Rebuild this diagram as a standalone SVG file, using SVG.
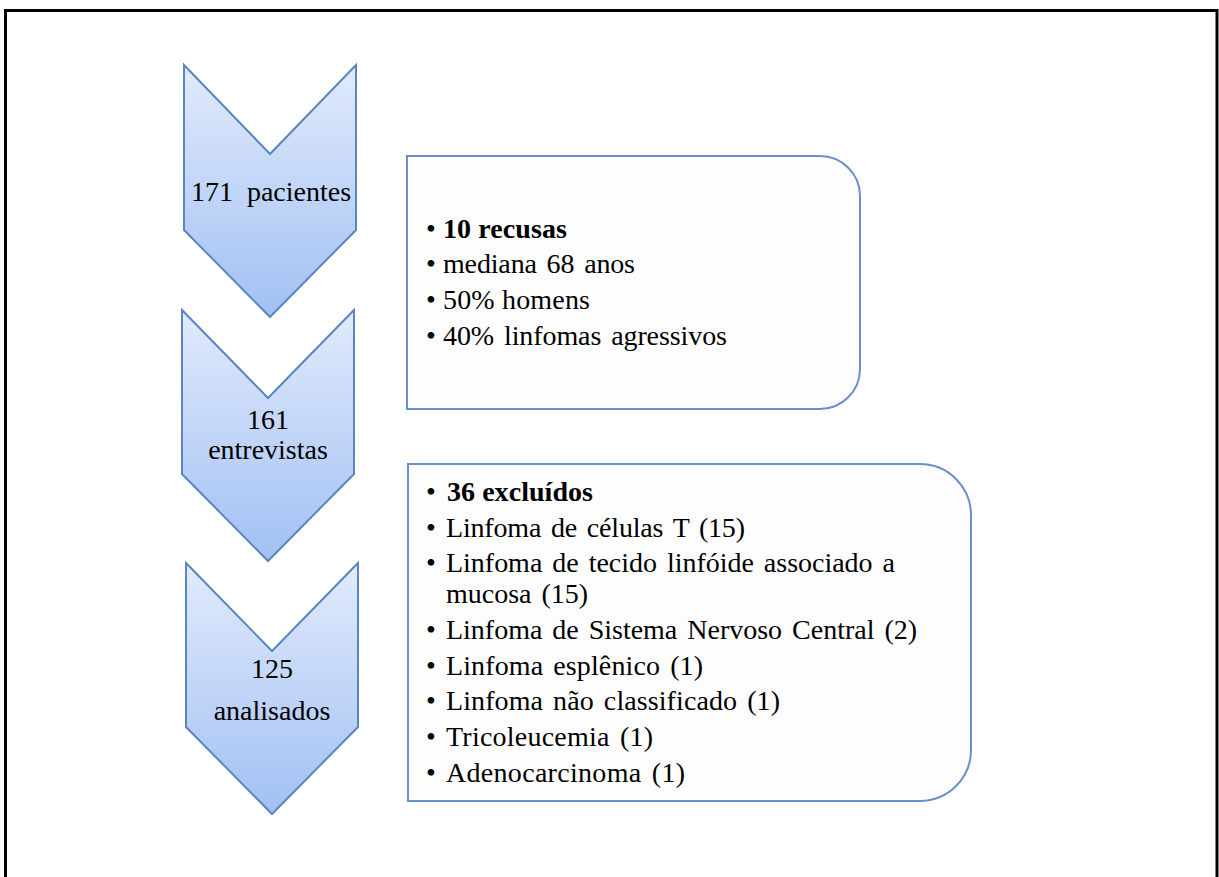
<svg xmlns="http://www.w3.org/2000/svg" width="1219" height="877" viewBox="0 0 1219 877">
<style>
.chev{fill:url(#g);stroke:#5a86c0;stroke-width:2;stroke-linejoin:miter}
.box{fill:#fdfdfd;stroke:#6890c9;stroke-width:2}
.t{font-family:"Liberation Serif","Times New Roman",Times,serif;font-size:28px;fill:#000}
.w{word-spacing:3px}
.b{font-weight:bold}
</style>
<defs>
<linearGradient id="g" x1="0" y1="0" x2="0" y2="1">
<stop offset="0" stop-color="#e1ebfc"/>
<stop offset="1" stop-color="#a2c0f3"/>
</linearGradient>
</defs>
<rect x="0" y="0" width="1219" height="877" fill="#fff"/>
<path d="M5.5,877 V10.5 H1217 V877" fill="none" stroke="#000" stroke-width="3"/>
<g id="chevron1">
<path class="chev" d="M184,65 L270,154 L356,65 V230 L270,317 L184,230 Z"/>
<text class="t" x="271" y="201" text-anchor="middle" xml:space="preserve">171  pacientes</text>
</g>
<g id="chevron2">
<path class="chev" d="M182,310 L268,398 L354,310 V474 L268,561 L182,474 Z"/>
<text class="t" x="268" y="429" text-anchor="middle">161</text>
<text class="t" x="268" y="459" text-anchor="middle">entrevistas</text>
</g>
<g id="chevron3">
<path class="chev" d="M186,563 L272,651 L358,563 V727 L272,814 L186,727 Z"/>
<text class="t" x="272" y="678" text-anchor="middle">125</text>
<text class="t" x="272" y="720" text-anchor="middle">analisados</text>
</g>
<g id="box1">
<path class="box" d="M407,156 H820 A40,40 0 0 1 860,196 V369 A40,40 0 0 1 820,409 H407 Z"/>
<text class="t" x="426" y="238">•</text>
<text class="t b" x="443" y="238" textLength="124" lengthAdjust="spacing">10 recusas</text>
<text class="t" x="426" y="273">•</text>
<text class="t w" x="443" y="273" textLength="192" lengthAdjust="spacing">mediana 68 anos</text>
<text class="t" x="426" y="309">•</text>
<text class="t" x="443" y="309" textLength="147" lengthAdjust="spacing">50% homens</text>
<text class="t" x="426" y="345">•</text>
<text class="t w" x="443" y="345" textLength="284" lengthAdjust="spacing">40% linfomas agressivos</text>
</g>
<g id="box2">
<path class="box" d="M408,464 H920 A51,51 0 0 1 971,515 V750 A51,51 0 0 1 920,801 H408 Z"/>
<text class="t" x="426" y="501">•</text>
<text class="t b" x="447" y="501" textLength="146" lengthAdjust="spacing">36 excluídos</text>
<text class="t" x="426" y="537">•</text>
<text class="t w" x="446" y="537" textLength="299" lengthAdjust="spacing">Linfoma de células T (15)</text>
<text class="t" x="426" y="572">•</text>
<text class="t w" x="446" y="572" textLength="449" lengthAdjust="spacing">Linfoma de tecido linfóide associado a</text>
<text class="t w" x="446" y="603" textLength="142" lengthAdjust="spacing">mucosa (15)</text>
<text class="t" x="426" y="639">•</text>
<text class="t w" x="446" y="639" textLength="471" lengthAdjust="spacing">Linfoma de Sistema Nervoso Central (2)</text>
<text class="t" x="426" y="675">•</text>
<text class="t w" x="446" y="675" textLength="257" lengthAdjust="spacing">Linfoma esplênico (1)</text>
<text class="t" x="426" y="710">•</text>
<text class="t w" x="446" y="710" textLength="334" lengthAdjust="spacing">Linfoma não classificado (1)</text>
<text class="t" x="426" y="746">•</text>
<text class="t w" x="446" y="746" textLength="207" lengthAdjust="spacing">Tricoleucemia (1)</text>
<text class="t" x="426" y="782">•</text>
<text class="t w" x="446" y="782" textLength="239" lengthAdjust="spacing">Adenocarcinoma (1)</text>
</g>
<g id="connectors"></g>
</svg>
